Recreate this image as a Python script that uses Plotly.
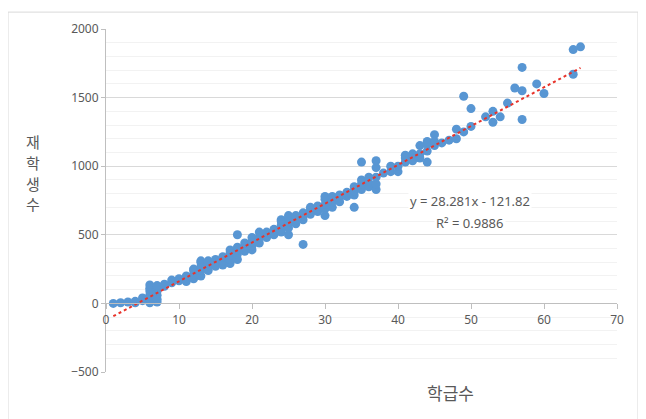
import plotly.graph_objects as go

# 학급수 (x) and 재학생수 (y)
class_counts = [
    1, 2, 3, 4, 4, 5, 5,
    6, 6, 6, 6, 6, 6,
    7, 7, 7, 7, 7, 7,
    8, 8, 9, 9, 10, 10, 11, 11, 11,
    12, 12, 12, 12, 13, 13, 13, 13, 13,
    14, 14, 14, 14, 15, 15, 15, 16, 16, 16,
    17, 17, 17, 17, 17, 18, 18, 18, 18, 18,
    19, 19, 19, 20, 20, 20, 20, 21, 21, 21,
    22, 22, 22, 23, 23, 23,
    24, 24, 24, 24, 24, 25, 25, 25, 25, 25,
    26, 26, 26, 27, 27, 27, 27, 28, 28, 28, 29, 29, 29,
    30, 30, 30, 30, 30, 31, 31, 31, 32, 32, 32, 33, 33, 33,
    34, 34, 34, 34, 35, 35, 35, 35, 36, 36, 36,
    37, 37, 37, 37, 37, 38, 39, 39, 40, 40,
    41, 41, 41, 42, 42, 42, 43, 43, 43, 44, 44, 44, 44,
    45, 45, 45, 46, 47, 48, 48, 49, 49, 50, 50,
    52, 53, 53, 54, 55, 56, 57, 57, 57, 59, 60, 64, 64, 65,
]
students = [
    0, 5, 10, 5, 15, 20, 40,
    5, 30, 60, 90, 110, 135,
    10, 30, 60, 90, 115, 130,
    125, 140, 150, 170, 165, 180, 160, 185, 200,
    180, 210, 240, 250, 200, 240, 270, 300, 310,
    240, 270, 300, 310, 270, 300, 320, 280, 310, 340,
    290, 320, 350, 370, 390, 320, 360, 390, 410, 500,
    380, 410, 440, 390, 420, 450, 480, 440, 480, 520,
    480, 500, 520, 500, 520, 540,
    520, 540, 570, 600, 610, 500, 550, 590, 620, 640,
    580, 610, 640, 430, 610, 640, 660, 650, 680, 700, 670, 690, 710,
    640, 690, 720, 760, 780, 700, 740, 780, 740, 770, 790, 780, 800, 810,
    700, 790, 820, 850, 830, 870, 900, 1030, 850, 880, 920,
    830, 870, 920, 990, 1040, 950, 960, 1000, 960, 1000,
    1030, 1060, 1080, 1040, 1070, 1090, 1060, 1090, 1150, 1030, 1110, 1160, 1180,
    1150, 1180, 1230, 1170, 1190, 1200, 1270, 1250, 1510, 1290, 1420,
    1360, 1320, 1400, 1360, 1460, 1570, 1340, 1550, 1720, 1600, 1530, 1670, 1850, 1870,
]

# Linear trendline (as shown on the chart)
trend_slope = 28.281
trend_intercept = -121.82
trend_r2 = 0.9886
trend_x = [1, 65]

x_ticks = [0, 10, 20, 30, 40, 50, 60, 70]
y_ticks = [-500, 0, 500, 1000, 1500, 2000]

x_title = "학급수"
y_title_chars = ["재", "학", "생", "수"]

FONT = "Noto Sans, Noto Sans CJK KR, sans-serif"
KFONT = "Noto Sans CJK KR, sans-serif"
GREY_TXT = "#595959"

trend_y = [trend_slope * v + trend_intercept for v in trend_x]

fig = go.Figure()
fig.add_trace(go.Scatter(
    x=class_counts, y=students, mode="markers",
    marker=dict(size=9, color="#5896d3", line=dict(width=0)),
    showlegend=False, hoverinfo="x+y",
))
fig.add_trace(go.Scatter(
    x=trend_x, y=trend_y, mode="lines",
    line=dict(color="#e8332a", width=2, dash="dot"),
    showlegend=False, hoverinfo="skip",
))

# plot area (screen px): x 106..617, y 27..372 ; page offset 8px
PL, PR, PT, PB = 106, 617, 27, 372
PW, PH = PR - PL, PB - PT

def px(sx):
    return (sx - PL) / PW

def py(sy):
    return (PB - sy) / PH

annotations = [
    dict(text="y = %.3fx - %.2f" % (trend_slope, -trend_intercept),
         xref="paper", yref="paper", x=px(470), y=py(200), showarrow=False,
         font=dict(family=FONT, size=13, color=GREY_TXT),
         bgcolor="white", xanchor="center", yanchor="middle"),
    dict(text="R² = " + str(trend_r2), xref="paper", yref="paper",
         x=px(470), y=py(222), showarrow=False,
         font=dict(family=FONT, size=13, color=GREY_TXT),
         bgcolor="white", xanchor="center", yanchor="middle"),
    dict(text=x_title, xref="paper", yref="paper",
         x=px(450), y=py(393), showarrow=False,
         font=dict(family=KFONT, size=17, color=GREY_TXT),
         xanchor="center", yanchor="middle"),
]
for i, ch in enumerate(y_title_chars):
    annotations.append(dict(
        text=ch, xref="paper", yref="paper",
        x=px(33), y=py(140 + 21 * i), showarrow=False,
        font=dict(family=KFONT, size=15, color=GREY_TXT),
        xanchor="center", yanchor="middle", borderpad=0,
    ))

fig.update_layout(
    width=638, height=411,
    margin=dict(l=PL - 8, r=646 - PR, t=PT - 8, b=419 - PB),
    paper_bgcolor="white", plot_bgcolor="white",
    font=dict(family=FONT, size=12, color=GREY_TXT),
    xaxis=dict(
        range=[0, 70], tickvals=x_ticks, showgrid=False, zeroline=False,
        anchor="free", position=500 / 2500,
        showline=True, linecolor="#bfbfbf", linewidth=1,
        ticks="outside", ticklen=5, tickcolor="#bfbfbf",
        tickfont=dict(size=12, color=GREY_TXT),
    ),
    yaxis=dict(
        range=[-500, 2000], tickvals=y_ticks, showgrid=True,
        gridcolor="#d9d9d9", gridwidth=1, zeroline=False,
        showline=True, linecolor="#bfbfbf", linewidth=1,
        ticks="outside", ticklen=4, tickcolor="#bfbfbf",
        tickfont=dict(size=12, color=GREY_TXT),
        minor=dict(dtick=100, showgrid=True, gridcolor="#f2f2f2", gridwidth=1),
    ),
    shapes=[dict(
        type="rect", xref="paper", yref="paper",
        x0=px(8), x1=px(638), y0=py(440), y1=py(10),
        line=dict(color="#d9d9d9", width=1), fillcolor="rgba(0,0,0,0)",
        layer="below",
    )],
    annotations=annotations,
)

fig.write_html("out.html")
